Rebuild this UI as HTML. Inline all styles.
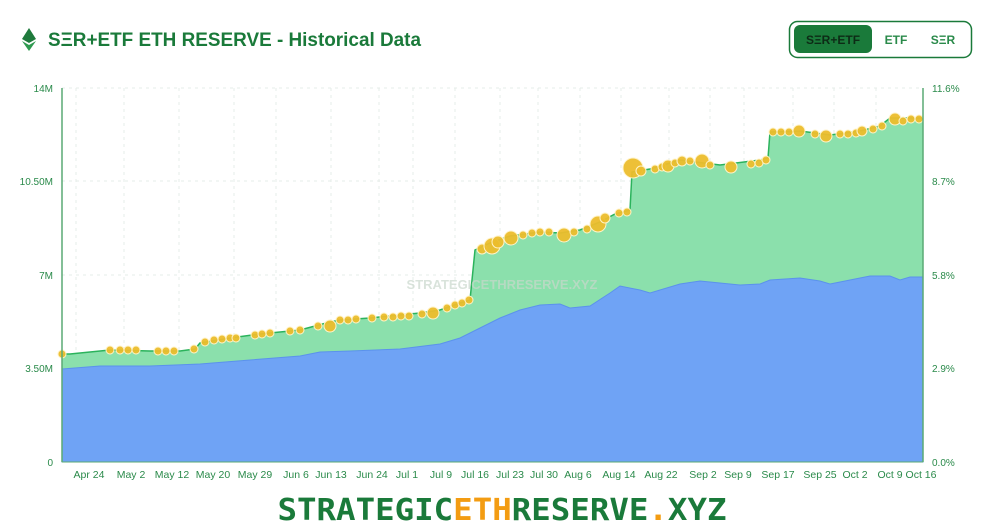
<!DOCTYPE html>
<html><head><meta charset="utf-8"><style>
body{margin:0;width:1003px;height:530px;background:#fff;overflow:hidden;font-family:"Liberation Sans",sans-serif}
</style></head><body>
<svg width="1003" height="530" xmlns="http://www.w3.org/2000/svg" style="position:absolute;left:0;top:0">
<polygon points="29,28 36,39 29,43 22,39" fill="#1f7a3c"/>
<polygon points="22,41 29,45 36,41 29,51" fill="#2f9a50"/>
<text x="48" y="46" font-size="19" font-weight="bold" fill="#1a7a3a" textLength="373" lengthAdjust="spacingAndGlyphs">SΞR+ETF ETH RESERVE - Historical Data</text>
<rect x="789.5" y="21.5" width="182" height="36" rx="8" fill="#fff" stroke="#1a7a3a" stroke-width="1.5"/>
<rect x="794" y="25" width="78" height="28" rx="6" fill="#1a7a3a"/>
<text x="833" y="44" font-size="12" font-weight="bold" fill="#0d2b16" text-anchor="middle">SΞR+ETF</text>
<text x="896" y="44" font-size="12" font-weight="bold" fill="#2a8a4a" text-anchor="middle">ETF</text>
<text x="943" y="44" font-size="12" font-weight="bold" fill="#2a8a4a" text-anchor="middle">SΞR</text>
<g stroke="#e6ece8" stroke-dasharray="3,4" stroke-width="1">
<line x1="62" y1="88" x2="923" y2="88"/><line x1="62" y1="181" x2="923" y2="181"/><line x1="62" y1="275" x2="923" y2="275"/><line x1="62" y1="368" x2="923" y2="368"/>
<line x1="76" y1="88" x2="76" y2="462"/><line x1="124" y1="88" x2="124" y2="462"/><line x1="179" y1="88" x2="179" y2="462"/><line x1="234" y1="88" x2="234" y2="462"/><line x1="276" y1="88" x2="276" y2="462"/><line x1="331" y1="88" x2="331" y2="462"/><line x1="379" y1="88" x2="379" y2="462"/><line x1="413" y1="88" x2="413" y2="462"/><line x1="455" y1="88" x2="455" y2="462"/><line x1="500" y1="88" x2="500" y2="462"/><line x1="538" y1="88" x2="538" y2="462"/><line x1="580" y1="88" x2="580" y2="462"/><line x1="621" y1="88" x2="621" y2="462"/><line x1="669" y1="88" x2="669" y2="462"/><line x1="710" y1="88" x2="710" y2="462"/><line x1="744" y1="88" x2="744" y2="462"/><line x1="793" y1="88" x2="793" y2="462"/><line x1="834" y1="88" x2="834" y2="462"/><line x1="876" y1="88" x2="876" y2="462"/>
</g>
<polygon fill="#8be0ac" points="62,354 70,354 90,352 110,350 150,351 180,351 195,349 200,343 230,338 260,334 300,330 330,322 340,320 370,318 420,313 440,310 460,303 470,300 475,250 490,243 510,236 540,232 560,233 580,230 600,222 615,214 630,210 632,172 650,169 680,160 720,165 760,160 768,158 770,132 800,131 830,135 860,131 880,126 890,118 923,118 923,462 62,462"/>
<polyline fill="none" stroke="#2bb35c" stroke-width="1.5" points="62,354 70,354 90,352 110,350 150,351 180,351 195,349 200,343 230,338 260,334 300,330 330,322 340,320 370,318 420,313 440,310 460,303 470,300 475,250 490,243 510,236 540,232 560,233 580,230 600,222 615,214 630,210 632,172 650,169 680,160 720,165 760,160 768,158 770,132 800,131 830,135 860,131 880,126 890,118 923,118"/>
<polygon fill="#6fa3f5" stroke="#5b92ec" stroke-width="1" points="62,369 100,366 150,366 200,364 250,360 300,356 320,352 350,351 400,349 440,344 460,338 480,328 500,318 520,310 540,305 560,304 570,308 590,306 610,293 620,286 640,290 650,293 680,284 700,281 740,285 760,284 770,280 800,278 820,281 830,284 840,282 870,276 890,276 900,280 910,277 923,277 923,462 62,462"/>
<text x="502" y="289" font-size="13" font-weight="bold" fill="#c9d7cc" fill-opacity="0.7" text-anchor="middle">STRATEGICETHRESERVE.XYZ</text>
<g fill="#ecbd2c" stroke="#fff3c8" stroke-width="1" fill-opacity="0.95">
<circle cx="62" cy="354" r="4"/><circle cx="110" cy="350" r="4"/><circle cx="120" cy="350" r="4"/><circle cx="128" cy="350" r="4"/><circle cx="136" cy="350" r="4"/><circle cx="158" cy="351" r="4"/><circle cx="166" cy="351" r="4"/><circle cx="174" cy="351" r="4"/><circle cx="194" cy="349" r="4"/>
<circle cx="205" cy="342" r="4"/><circle cx="214" cy="340" r="4"/><circle cx="222" cy="339" r="4"/><circle cx="230" cy="338" r="4"/><circle cx="236" cy="338" r="4"/><circle cx="255" cy="335" r="4"/><circle cx="262" cy="334" r="4"/><circle cx="270" cy="333" r="4"/><circle cx="290" cy="331" r="4"/><circle cx="300" cy="330" r="4"/><circle cx="318" cy="326" r="4"/><circle cx="330" cy="326" r="6"/><circle cx="340" cy="320" r="4"/><circle cx="348" cy="320" r="4"/><circle cx="356" cy="319" r="4"/><circle cx="372" cy="318" r="4"/><circle cx="384" cy="317" r="4"/><circle cx="393" cy="317" r="4"/><circle cx="401" cy="316" r="4"/><circle cx="409" cy="316" r="4"/><circle cx="422" cy="314" r="4"/><circle cx="433" cy="313" r="6"/><circle cx="447" cy="308" r="4"/><circle cx="455" cy="305" r="4"/><circle cx="462" cy="303" r="4"/><circle cx="469" cy="300" r="4"/>
<circle cx="482" cy="249" r="5"/><circle cx="492" cy="246" r="8"/><circle cx="498" cy="242" r="6"/><circle cx="511" cy="238" r="7"/><circle cx="523" cy="235" r="4"/><circle cx="532" cy="233" r="4"/><circle cx="540" cy="232" r="4"/><circle cx="549" cy="232" r="4"/><circle cx="564" cy="235" r="7"/><circle cx="574" cy="232" r="4"/><circle cx="587" cy="229" r="4"/><circle cx="598" cy="224" r="8"/><circle cx="605" cy="218" r="5"/><circle cx="619" cy="213" r="4"/><circle cx="627" cy="212" r="4"/>
<circle cx="633" cy="168" r="10"/><circle cx="641" cy="171" r="5"/><circle cx="655" cy="169" r="4"/><circle cx="662" cy="167" r="4"/><circle cx="668" cy="166" r="6"/><circle cx="675" cy="163" r="4"/><circle cx="682" cy="161" r="5"/><circle cx="690" cy="161" r="4"/><circle cx="702" cy="161" r="7"/><circle cx="710" cy="165" r="4"/><circle cx="731" cy="167" r="6"/><circle cx="751" cy="164" r="4"/><circle cx="759" cy="163" r="4"/><circle cx="766" cy="160" r="4"/>
<circle cx="773" cy="132" r="4"/><circle cx="781" cy="132" r="4"/><circle cx="789" cy="132" r="4"/><circle cx="799" cy="131" r="6"/><circle cx="815" cy="134" r="4"/><circle cx="826" cy="136" r="6"/><circle cx="840" cy="134" r="4"/><circle cx="848" cy="134" r="4"/><circle cx="856" cy="133" r="4"/><circle cx="862" cy="131" r="5"/><circle cx="873" cy="129" r="4"/><circle cx="882" cy="126" r="4"/><circle cx="895" cy="119" r="6"/><circle cx="903" cy="121" r="4"/><circle cx="911" cy="119" r="4"/><circle cx="919" cy="119" r="4"/>
</g>
<line x1="62" y1="88" x2="62" y2="462" stroke="#5aaa75" stroke-width="1.5"/>
<line x1="923" y1="88" x2="923" y2="462" stroke="#5aaa75" stroke-width="1.5"/>
<line x1="62" y1="462" x2="923" y2="462" stroke="#5aaa75" stroke-width="1"/>
<g font-size="10" fill="#2a8a4a" text-anchor="end">
<text x="53" y="92">14M</text><text x="53" y="185">10.50M</text><text x="53" y="279">7M</text><text x="53" y="372">3.50M</text><text x="53" y="466">0</text>
</g>
<g font-size="10" fill="#2a8a4a">
<text x="932" y="92">11.6%</text><text x="932" y="185">8.7%</text><text x="932" y="279">5.8%</text><text x="932" y="372">2.9%</text><text x="932" y="466">0.0%</text>
</g>
<g font-size="10.5" fill="#2a8a4a" text-anchor="middle">
<text x="89" y="478">Apr 24</text><text x="131" y="478">May 2</text><text x="172" y="478">May 12</text><text x="213" y="478">May 20</text><text x="255" y="478">May 29</text><text x="296" y="478">Jun 6</text><text x="331" y="478">Jun 13</text><text x="372" y="478">Jun 24</text><text x="407" y="478">Jul 1</text><text x="441" y="478">Jul 9</text><text x="475" y="478">Jul 16</text><text x="510" y="478">Jul 23</text><text x="544" y="478">Jul 30</text><text x="578" y="478">Aug 6</text><text x="619" y="478">Aug 14</text><text x="661" y="478">Aug 22</text><text x="703" y="478">Sep 2</text><text x="738" y="478">Sep 9</text><text x="778" y="478">Sep 17</text><text x="820" y="478">Sep 25</text><text x="855" y="478">Oct 2</text><text x="890" y="478">Oct 9</text><text x="921" y="478">Oct 16</text>
</g>
<text x="502" y="520" font-family="DejaVu Sans Mono, monospace" font-size="30" font-weight="bold" fill="#1a7a3a" text-anchor="middle" textLength="449" lengthAdjust="spacingAndGlyphs">STRATEGIC<tspan fill="#f39c12">ETH</tspan>RESERVE<tspan fill="#f39c12">.</tspan>XYZ</text>
</svg>
</body></html>
